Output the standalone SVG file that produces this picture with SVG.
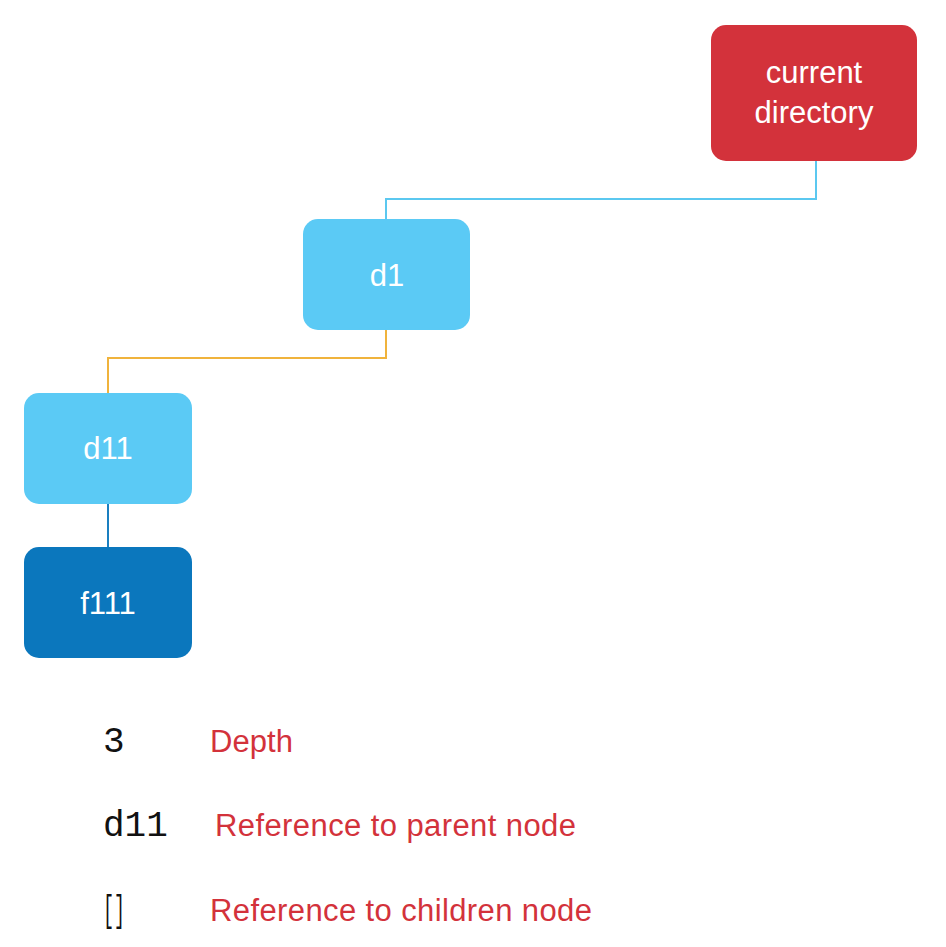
<svg xmlns="http://www.w3.org/2000/svg" width="946" height="947" viewBox="0 0 946 947">
<style>
.lbl{font-family:"Liberation Sans","Open Sans",Arial,sans-serif;font-size:31px;fill:#ffffff;text-anchor:middle}
.leg{font-family:"Liberation Sans","Open Sans",Arial,sans-serif;font-size:31px;fill:#d3323b}
.mono{font-family:"Liberation Mono","DejaVu Sans Mono",monospace;font-size:36px;fill:#111111}
.conn{fill:none;stroke-width:2}
</style>
<rect width="946" height="947" fill="#ffffff"/>
<g id="connectors">
<polyline class="conn" stroke="#5bc8f0" points="816,161 816,199 386,199 386,219"/>
<polyline class="conn" stroke="#f0b33c" points="386,330 386,358 108,358 108,393"/>
<line class="conn" stroke="#1a7fc0" x1="108" y1="504" x2="108" y2="547"/>
</g>
<g id="current_directory">
<rect x="711" y="25" width="206" height="136" rx="15" fill="#d3323b"/>
<text class="lbl" x="814" y="83">current</text>
<text class="lbl" x="814" y="123">directory</text>
</g>
<g id="d1">
<rect x="303" y="219" width="167" height="111" rx="15" fill="#5bcaf5"/>
<text class="lbl" x="387" y="286">d1</text>
</g>
<g id="d11">
<rect x="24" y="393" width="168" height="111" rx="15" fill="#5bcaf5"/>
<text class="lbl" x="108" y="459">d11</text>
</g>
<g id="f111">
<rect x="24" y="547" width="168" height="111" rx="15" fill="#0b77bd"/>
<text class="lbl" x="108" y="614">f111</text>
</g>
<g id="legend">
<text class="mono" x="103" y="752">3</text>
<text class="leg" x="210" y="752" textLength="83">Depth</text>
<text class="mono" x="103" y="836">d11</text>
<text class="leg" x="215" y="836" textLength="361">Reference to parent node</text>
<text class="mono" x="103" y="921" textLength="22" lengthAdjust="spacingAndGlyphs">[]</text>
<text class="leg" x="210" y="921" textLength="382">Reference to children node</text>
</g>
</svg>
